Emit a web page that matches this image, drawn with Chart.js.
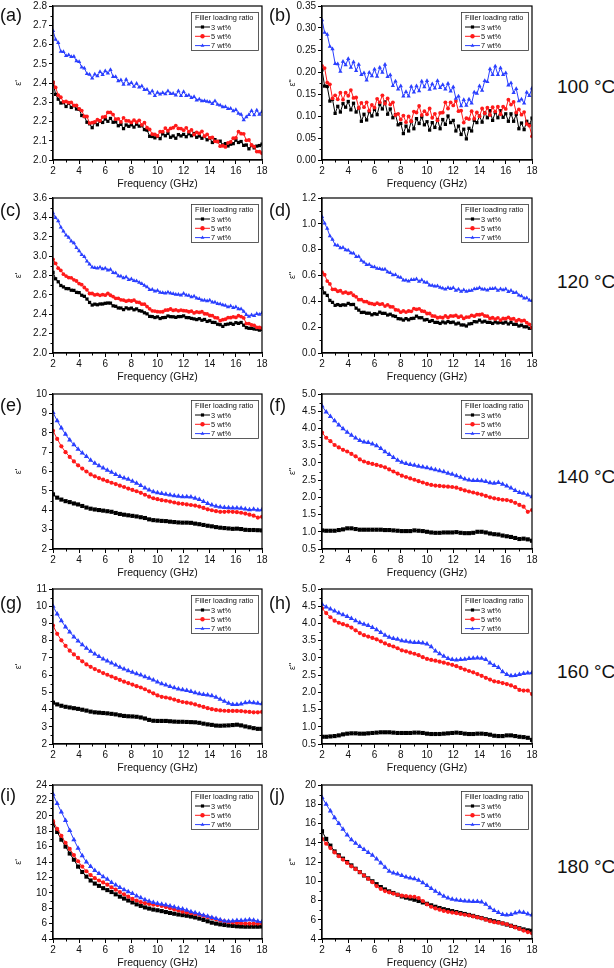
<!DOCTYPE html>
<html><head><meta charset="utf-8">
<script src="https://cdn.jsdelivr.net/npm/chart.js@4.4.1/dist/chart.umd.min.js"></script>
<style>
html,body{margin:0;padding:0;background:#fff;}
body{width:614px;height:968px;position:relative;overflow:hidden;font-family:"Liberation Sans",Arial,sans-serif;}
canvas{position:absolute;}
.lbl{position:absolute;font-size:18px;line-height:20px;color:#111;}
.tmp{position:absolute;font-size:19px;line-height:22px;color:#111;white-space:nowrap;}
</style></head><body>
<script>
// ---------- DATA ----------
const seriesLabels = ['3 wt%', '5 wt%', '7 wt%'];
const legendTitle = 'Filler loading ratio';
const xTitle = 'Frequency (GHz)';
const panelLetters = ['(a)','(b)','(c)','(d)','(e)','(f)','(g)','(h)','(i)','(j)'];
const temperatures = ['100 °C','120 °C','140 °C','160 °C','180 °C'];
const yTitles = ["ε'", 'ε"'];
const xTicks = [2, 18, 2];
// y axis [min, max, step, decimals] per panel
const yAxisA = [2.0, 2.8, 0.1, 1];
const yAxisB = [0, 0.35, 0.05, 2];
const yAxisC = [2.0, 3.6, 0.2, 1];
const yAxisD = [0, 1.2, 0.2, 1];
const yAxisE = [2, 10, 1, 0];
const yAxisF = [0.5, 5.0, 0.5, 1];
const yAxisG = [2, 11, 1, 0];
const yAxisH = [0.5, 5.0, 0.5, 1];
const yAxisI = [4, 24, 2, 0];
const yAxisJ = [4, 20, 2, 0];

const freqDense = [2,2.2,2.4,2.6,2.8,3,3.2,3.4,3.6,3.8,4,4.2,4.4,4.6,4.8,5,5.2,5.4,5.6,5.8,6,6.2,6.4,6.6,6.8,7,7.2,7.4,7.6,7.8,8,8.2,8.4,8.6,8.8,9,9.2,9.4,9.6,9.8,10,10.2,10.4,10.6,10.8,11,11.2,11.4,11.6,11.8,12,12.2,12.4,12.6,12.8,13,13.2,13.4,13.6,13.8,14,14.2,14.4,14.6,14.8,15,15.2,15.4,15.6,15.8,16,16.2,16.4,16.6,16.8,17,17.2,17.4,17.6,17.8,18];
const freqMarked = [2,2.32,2.64,2.96,3.28,3.6,3.92,4.24,4.56,4.88,5.2,5.52,5.84,6.16,6.48,6.8,7.12,7.44,7.76,8.08,8.4,8.72,9.04,9.36,9.68,10,10.32,10.64,10.96,11.28,11.6,11.92,12.24,12.56,12.88,13.2,13.52,13.84,14.16,14.48,14.8,15.12,15.44,15.76,16.08,16.4,16.72,17.04,17.36,17.68,18];

// (a) epsilon' 100 C
const a3 = [2.403,2.341,2.316,2.296,2.298,2.278,2.295,2.273,2.282,2.265,2.263,2.231,2.226,2.196,2.188,2.168,2.195,2.183,2.202,2.195,2.213,2.201,2.216,2.196,2.198,2.178,2.185,2.163,2.182,2.175,2.183,2.171,2.186,2.176,2.178,2.158,2.155,2.123,2.122,2.115,2.123,2.111,2.136,2.126,2.138,2.118,2.125,2.113,2.132,2.125,2.133,2.121,2.136,2.126,2.138,2.118,2.125,2.113,2.122,2.105,2.113,2.091,2.106,2.096,2.098,2.078,2.085,2.073,2.082,2.085,2.103,2.091,2.096,2.076,2.078,2.058,2.075,2.063,2.072,2.075,2.083];
const a5 = [2.405,2.377,2.337,2.326,2.302,2.304,2.298,2.299,2.284,2.283,2.266,2.257,2.227,2.226,2.192,2.194,2.198,2.209,2.204,2.223,2.225,2.247,2.247,2.236,2.212,2.214,2.198,2.219,2.204,2.203,2.195,2.207,2.197,2.206,2.182,2.194,2.168,2.159,2.134,2.133,2.125,2.147,2.147,2.166,2.152,2.164,2.168,2.179,2.164,2.163,2.155,2.167,2.147,2.156,2.132,2.144,2.138,2.149,2.124,2.133,2.115,2.117,2.097,2.096,2.072,2.074,2.068,2.089,2.094,2.113,2.115,2.147,2.137,2.136,2.102,2.104,2.078,2.069,2.044,2.043,2.035];
const a7 = [2.672,2.626,2.609,2.563,2.562,2.541,2.545,2.537,2.538,2.514,2.511,2.482,2.477,2.448,2.444,2.425,2.446,2.436,2.459,2.443,2.462,2.451,2.469,2.433,2.432,2.411,2.415,2.392,2.418,2.394,2.401,2.382,2.397,2.378,2.384,2.365,2.366,2.347,2.358,2.334,2.351,2.341,2.349,2.343,2.358,2.344,2.345,2.336,2.358,2.334,2.354,2.334,2.337,2.323,2.328,2.311,2.316,2.307,2.308,2.304,2.301,2.292,2.307,2.288,2.284,2.275,2.276,2.266,2.268,2.254,2.261,2.242,2.237,2.208,2.224,2.235,2.256,2.234,2.259,2.236,2.251];
// (b) epsilon'' 100 C
const b3 = [.205,.168,.167,.134,.138,.106,.122,.109,.128,.120,.133,.114,.129,.109,.118,.088,.104,.091,.110,.100,.115,.103,.127,.116,.132,.104,.116,.096,.103,.080,.083,.060,.077,.066,.088,.071,.094,.083,.098,.080,.087,.068,.085,.074,.092,.071,.092,.081,.100,.085,.090,.066,.077,.058,.070,.048,.072,.066,.090,.085,.100,.086,.107,.096,.112,.090,.108,.096,.112,.097,.105,.088,.105,.088,.104,.071,.084,.069,.088,.080,.095];
const b5 = [.214,.209,.176,.172,.140,.147,.138,.153,.137,.153,.146,.159,.141,.142,.118,.130,.120,.131,.112,.125,.119,.139,.131,.147,.128,.140,.126,.131,.102,.105,.092,.101,.086,.099,.088,.110,.108,.123,.102,.111,.104,.117,.096,.105,.090,.107,.108,.131,.117,.131,.124,.134,.111,.112,.085,.095,.093,.111,.094,.108,.099,.117,.106,.119,.102,.120,.110,.121,.104,.121,.116,.137,.126,.132,.108,.115,.103,.109,.082,.078,.054];
const b7 = [.318,.290,.285,.258,.252,.219,.218,.201,.224,.216,.230,.210,.223,.203,.217,.194,.198,.181,.199,.191,.206,.190,.210,.199,.217,.189,.193,.169,.179,.161,.168,.145,.155,.145,.167,.154,.168,.157,.179,.166,.180,.160,.173,.163,.180,.164,.171,.161,.174,.156,.166,.140,.145,.123,.137,.124,.138,.129,.154,.151,.168,.158,.180,.178,.207,.194,.213,.194,.209,.194,.198,.170,.175,.153,.162,.134,.138,.129,.154,.146,.163];
// (c) epsilon' 120 C
const c3 = [2.833,2.766,2.735,2.697,2.682,2.665,2.664,2.648,2.646,2.626,2.623,2.596,2.585,2.557,2.522,2.495,2.504,2.498,2.506,2.506,2.513,2.516,2.515,2.487,2.482,2.465,2.464,2.448,2.466,2.456,2.463,2.446,2.455,2.437,2.432,2.415,2.404,2.378,2.376,2.366,2.373,2.356,2.365,2.367,2.382,2.375,2.374,2.368,2.376,2.376,2.383,2.366,2.365,2.357,2.352,2.345,2.354,2.338,2.346,2.326,2.333,2.316,2.315,2.297,2.292,2.275,2.294,2.298,2.306,2.296,2.313,2.306,2.315,2.287,2.262,2.255,2.254,2.248,2.246,2.236,2.243];
const c5 = [2.967,2.925,2.876,2.852,2.814,2.794,2.779,2.776,2.755,2.743,2.717,2.705,2.676,2.652,2.614,2.614,2.599,2.606,2.595,2.603,2.597,2.615,2.596,2.582,2.564,2.564,2.549,2.546,2.535,2.543,2.537,2.545,2.526,2.522,2.504,2.504,2.479,2.456,2.435,2.433,2.427,2.425,2.426,2.442,2.444,2.454,2.439,2.446,2.435,2.443,2.437,2.435,2.426,2.432,2.414,2.424,2.419,2.426,2.405,2.403,2.387,2.385,2.366,2.362,2.334,2.344,2.349,2.366,2.365,2.373,2.367,2.385,2.376,2.362,2.304,2.304,2.289,2.286,2.265,2.263,2.257];
const c7 = [3.444,3.395,3.363,3.298,3.256,3.216,3.191,3.154,3.135,3.087,3.054,3.015,2.993,2.948,2.916,2.886,2.881,2.874,2.885,2.867,2.874,2.855,2.863,2.828,2.826,2.796,2.791,2.774,2.785,2.757,2.764,2.745,2.743,2.728,2.716,2.696,2.681,2.654,2.655,2.637,2.644,2.625,2.623,2.618,2.626,2.616,2.611,2.604,2.605,2.597,2.614,2.595,2.593,2.578,2.586,2.566,2.561,2.544,2.545,2.537,2.544,2.525,2.523,2.508,2.506,2.496,2.491,2.474,2.485,2.467,2.474,2.455,2.453,2.428,2.396,2.376,2.391,2.384,2.405,2.397,2.414];
// (d) epsilon'' 120 C
const d3 = [.504,.465,.446,.407,.392,.369,.375,.368,.373,.371,.384,.375,.376,.347,.332,.314,.315,.308,.308,.296,.304,.300,.316,.307,.307,.294,.300,.288,.283,.266,.264,.255,.266,.257,.267,.269,.285,.273,.273,.256,.259,.245,.251,.237,.237,.229,.240,.233,.243,.236,.239,.225,.231,.217,.217,.209,.225,.228,.243,.241,.254,.240,.246,.237,.237,.229,.240,.233,.238,.231,.239,.225,.236,.222,.222,.209,.215,.203,.203,.191,.194];
const d5 = [.626,.606,.557,.535,.493,.493,.478,.482,.465,.472,.461,.466,.447,.435,.413,.413,.398,.397,.385,.382,.376,.386,.377,.380,.363,.373,.358,.357,.335,.332,.316,.326,.317,.325,.323,.343,.338,.342,.325,.322,.306,.306,.287,.285,.273,.278,.273,.287,.275,.287,.286,.291,.277,.285,.268,.278,.278,.292,.285,.297,.296,.301,.287,.285,.268,.273,.263,.272,.255,.267,.266,.276,.262,.265,.248,.258,.248,.252,.235,.222,.196];
const d7 = [1.055,1.004,.963,.906,.878,.837,.832,.813,.816,.798,.795,.774,.773,.746,.748,.717,.702,.683,.686,.668,.665,.654,.653,.646,.648,.627,.622,.603,.606,.588,.585,.564,.563,.556,.568,.567,.572,.553,.566,.548,.545,.524,.523,.516,.518,.507,.502,.493,.506,.498,.505,.484,.493,.476,.488,.477,.482,.483,.496,.498,.505,.494,.493,.486,.498,.497,.502,.483,.496,.488,.495,.474,.483,.466,.468,.447,.442,.423,.426,.408,.405];
// (e) epsilon' 140 C
const e3 = [4.82,4.65,4.55,4.47,4.42,4.35,4.3,4.22,4.14,4.08,4.04,4.01,3.98,3.95,3.92,3.86,3.81,3.77,3.74,3.71,3.68,3.64,3.6,3.53,3.49,3.47,3.45,3.44,3.41,3.39,3.37,3.36,3.36,3.35,3.31,3.28,3.24,3.2,3.17,3.13,3.1,3.08,3.06,3.04,3.05,3.03,2.99,2.98,2.98,2.97,2.96];
const e5 = [8.1,7.68,7.3,7.0,6.75,6.52,6.32,6.15,6.0,5.85,5.75,5.66,5.58,5.5,5.42,5.35,5.27,5.2,5.12,5.05,4.98,4.9,4.8,4.7,4.62,4.57,4.52,4.49,4.45,4.4,4.35,4.33,4.3,4.27,4.24,4.19,4.12,4.05,4.0,3.95,3.92,3.92,3.93,3.92,3.9,3.87,3.83,3.77,3.72,3.62,3.66];
const e7 = [9.05,8.62,8.25,7.92,7.62,7.38,7.15,6.95,6.78,6.58,6.42,6.3,6.18,6.06,5.96,5.85,5.74,5.66,5.6,5.5,5.4,5.28,5.15,5.05,4.96,4.9,4.86,4.82,4.79,4.75,4.72,4.7,4.7,4.69,4.62,4.55,4.45,4.35,4.27,4.21,4.17,4.14,4.13,4.12,4.12,4.1,4.06,4.02,4.05,4.01,4.03];
// (f) epsilon'' 140 C
const f3 = [1.04,1.03,1.03,1.03,1.05,1.07,1.1,1.1,1.08,1.06,1.06,1.06,1.06,1.06,1.06,1.05,1.05,1.04,1.03,1.02,1.02,1.02,1.04,1.03,1.02,1.0,0.98,0.97,0.97,0.98,0.98,0.98,0.99,0.97,0.96,0.96,0.97,1.0,1.0,0.98,0.95,0.93,0.92,0.89,0.87,0.85,0.82,0.79,0.8,0.78,0.74];
const f5 = [3.88,3.73,3.63,3.52,3.45,3.38,3.33,3.26,3.19,3.1,3.04,3.0,2.97,2.94,2.91,2.87,2.81,2.75,2.69,2.63,2.59,2.55,2.51,2.47,2.43,2.39,2.36,2.34,2.33,2.32,2.31,2.3,2.28,2.24,2.2,2.17,2.14,2.11,2.08,2.04,2.0,1.97,1.95,1.93,1.92,1.89,1.84,1.78,1.73,1.58,1.63];
const f7 = [4.65,4.48,4.35,4.22,4.1,3.99,3.89,3.8,3.72,3.65,3.61,3.59,3.55,3.5,3.42,3.32,3.24,3.16,3.08,3.02,2.98,2.95,2.93,2.9,2.88,2.86,2.83,2.8,2.77,2.74,2.7,2.67,2.63,2.58,2.53,2.5,2.49,2.49,2.48,2.46,2.42,2.41,2.43,2.38,2.33,2.27,2.2,2.14,2.12,2.07,2.02];
// (g) epsilon' 160 C
const g3 = [4.4,4.3,4.22,4.16,4.12,4.08,4.04,3.99,3.94,3.88,3.84,3.82,3.8,3.78,3.75,3.72,3.67,3.63,3.61,3.6,3.58,3.54,3.48,3.4,3.35,3.34,3.34,3.34,3.32,3.3,3.29,3.29,3.28,3.27,3.26,3.23,3.18,3.14,3.11,3.07,3.06,3.07,3.08,3.1,3.12,3.08,3.02,2.97,2.92,2.88,2.88];
const g5 = [8.88,8.4,8.02,7.7,7.42,7.2,7.0,6.8,6.62,6.48,6.35,6.24,6.12,6.02,5.92,5.82,5.72,5.62,5.54,5.45,5.36,5.28,5.18,5.06,4.94,4.82,4.74,4.7,4.65,4.58,4.5,4.44,4.4,4.36,4.3,4.22,4.15,4.08,4.02,3.98,3.95,3.93,3.92,3.92,3.92,3.91,3.88,3.86,3.84,3.84,3.86];
const g7 = [10.0,9.55,9.15,8.8,8.5,8.22,7.98,7.76,7.56,7.38,7.22,7.08,6.94,6.82,6.7,6.58,6.46,6.36,6.26,6.16,6.08,6.0,5.9,5.82,5.72,5.6,5.5,5.42,5.34,5.26,5.2,5.15,5.1,5.05,4.98,4.92,4.88,4.85,4.8,4.72,4.6,4.48,4.37,4.3,4.3,4.32,4.4,4.42,4.4,4.36,4.33];
// (h) epsilon'' 160 C
const h3 = [0.71,0.71,0.72,0.73,0.75,0.78,0.8,0.81,0.81,0.8,0.8,0.81,0.82,0.83,0.84,0.84,0.84,0.83,0.82,0.82,0.82,0.82,0.83,0.83,0.82,0.8,0.79,0.79,0.79,0.8,0.81,0.82,0.83,0.82,0.8,0.79,0.79,0.8,0.8,0.79,0.77,0.74,0.73,0.73,0.75,0.75,0.73,0.71,0.7,0.68,0.62];
const h5 = [4.44,4.3,4.18,4.08,4.02,3.98,3.94,3.88,3.8,3.72,3.66,3.62,3.58,3.54,3.48,3.42,3.37,3.33,3.28,3.22,3.19,3.15,3.12,3.08,3.02,2.97,2.94,2.92,2.89,2.86,2.83,2.8,2.76,2.71,2.66,2.62,2.58,2.53,2.48,2.42,2.37,2.32,2.3,2.27,2.24,2.2,2.15,2.07,2.05,2.05,1.95];
const h7 = [4.56,4.48,4.42,4.36,4.3,4.25,4.2,4.14,4.08,4.02,3.98,3.94,3.88,3.82,3.74,3.66,3.6,3.56,3.54,3.5,3.48,3.46,3.45,3.45,3.43,3.4,3.32,3.2,3.12,3.05,2.98,2.95,2.94,2.95,2.96,2.98,2.99,3.0,2.99,2.95,2.85,2.78,2.72,2.6,2.52,2.48,2.49,2.52,2.55,2.56,2.57];
// (i) epsilon' 180 C
const i3 = [19.0,17.9,16.9,16.0,15.1,14.3,13.4,12.7,12.1,11.6,11.2,10.9,10.6,10.35,10.1,9.8,9.5,9.25,9.0,8.75,8.5,8.3,8.1,7.95,7.82,7.73,7.62,7.5,7.38,7.28,7.18,7.1,7.02,6.92,6.8,6.65,6.48,6.3,6.12,6.0,5.9,5.82,5.75,5.7,5.65,5.62,5.6,5.6,5.6,5.6,5.62];
const i5 = [19.3,18.3,17.4,16.5,15.7,14.9,14.1,13.4,12.8,12.3,11.9,11.6,11.35,11.05,10.7,10.4,10.1,9.8,9.5,9.2,9.0,8.8,8.65,8.55,8.45,8.4,8.3,8.15,8.0,7.85,7.7,7.55,7.45,7.35,7.25,7.15,7.0,6.85,6.7,6.55,6.4,6.3,6.2,6.15,6.1,6.05,6.0,6.0,6.0,6.0,6.0];
const i7 = [22.8,21.6,20.5,19.4,18.1,16.9,15.8,14.8,14.0,13.4,12.9,12.5,12.1,11.75,11.35,11.0,10.7,10.4,10.15,9.9,9.6,9.35,9.1,8.9,8.75,8.6,8.5,8.42,8.3,8.15,8.0,7.9,7.72,7.55,7.4,7.25,7.1,6.95,6.8,6.65,6.5,6.35,6.3,6.35,6.4,6.4,6.45,6.5,6.45,6.3,6.25];
// (j) epsilon'' 180 C
const j3 = [15.2,14.4,13.7,13.1,12.7,12.35,12.0,11.65,11.3,10.95,10.6,10.3,10.0,9.7,9.4,9.15,8.95,8.78,8.6,8.42,8.3,8.2,8.08,7.95,7.8,7.66,7.5,7.35,7.22,7.1,7.0,6.9,6.8,6.7,6.6,6.5,6.4,6.28,6.18,6.05,5.95,5.85,5.75,5.62,5.5,5.38,5.25,5.12,5.0,4.9,4.85];
const j5 = [14.4,13.9,13.45,13.0,12.6,12.25,11.9,11.55,11.25,10.95,10.6,10.25,9.9,9.5,9.2,8.98,8.85,8.72,8.6,8.5,8.45,8.4,8.38,8.25,7.95,7.6,7.35,7.18,7.05,6.92,6.82,6.75,6.68,6.6,6.52,6.45,6.35,6.25,6.15,6.0,5.85,5.75,5.7,5.62,5.52,5.35,5.2,5.05,4.88,4.72,4.6];
const j7 = [18.7,18.0,17.3,16.6,16.0,15.4,14.8,14.3,13.95,13.6,13.3,13.0,12.7,12.3,11.9,11.45,11.05,10.85,10.75,10.6,10.45,10.35,10.25,10.1,9.85,9.55,9.25,8.95,8.7,8.45,8.25,8.12,8.05,8.0,7.95,7.92,7.9,7.9,7.85,7.6,7.25,6.95,6.75,6.55,6.5,6.55,6.7,6.8,6.75,6.6,6.5];

// ---------- LAYOUT / STYLE ----------
const FONT = '"Liberation Sans", Arial, sans-serif';
const colors = ['#000000', '#ff1a1a', '#2a3fff'];
const styles = ['rect', 'circle', 'triangle'];
const rowTop = [5, 197, 393, 588, 784];
const rowH = [155, 156, 156, 156, 155];
const PADT = 7, XH = 32;

const panels = [
  {f: freqDense, s: [a3, a5, a7], y: yAxisA, dense: true},
  {f: freqDense, s: [b3, b5, b7], y: yAxisB, dense: true},
  {f: freqDense, s: [c3, c5, c7], y: yAxisC, dense: true},
  {f: freqDense, s: [d3, d5, d7], y: yAxisD, dense: true},
  {f: freqMarked, s: [e3, e5, e7], y: yAxisE},
  {f: freqMarked, s: [f3, f5, f7], y: yAxisF},
  {f: freqMarked, s: [g3, g5, g7], y: yAxisG},
  {f: freqMarked, s: [h3, h5, h7], y: yAxisH},
  {f: freqMarked, s: [i3, i5, i7], y: yAxisI},
  {f: freqMarked, s: [j3, j5, j7], y: yAxisJ}
];

function drawMarker(ctx, style, x, y, r) {
  ctx.beginPath();
  if (style === 'rect') { const s = r * 0.72; ctx.rect(x - s, y - s, 2 * s, 2 * s); }
  else if (style === 'triangle') { ctx.moveTo(x, y - r); ctx.lineTo(x + r * 0.87, y + r * 0.5); ctx.lineTo(x - r * 0.87, y + r * 0.5); ctx.closePath(); }
  else ctx.arc(x, y, r, 0, Math.PI * 2);
  ctx.fill();
}

const framePlugin = {
  id: 'frame',
  afterDraw(chart, args, opts) {
    const {ctx, chartArea: a, scales} = chart;
    const x = scales.x, y = scales.y;
    ctx.save();
    ctx.strokeStyle = '#000'; ctx.lineWidth = 1.2;
    ctx.strokeRect(a.left, a.top, a.right - a.left, a.bottom - a.top);
    // minor ticks
    ctx.lineWidth = 1;
    ctx.beginPath();
    for (let v = x.min + xTicks[2] / 2; v < x.max; v += xTicks[2]) {
      const px = Math.round(x.getPixelForValue(v)) + 0.5;
      ctx.moveTo(px, a.bottom); ctx.lineTo(px, a.bottom + 2.5);
    }
    const st = opts.yStep;
    for (let k = 0; ; k++) {
      const v = y.min + st * (k + 0.5);
      if (v >= y.max - 1e-9) break;
      const py = Math.round(y.getPixelForValue(v)) + 0.5;
      ctx.moveTo(a.left, py); ctx.lineTo(a.left - 2.5, py);
    }
    ctx.stroke();
    // legend box
    const bw = 67, bh = 38;
    const bx = a.right - 4 - bw, by = a.top + 6;
    ctx.fillStyle = '#fff';
    ctx.fillRect(bx, by, bw, bh);
    ctx.strokeStyle = '#333'; ctx.lineWidth = 0.8;
    ctx.strokeRect(bx + 0.5, by + 0.5, bw, bh);
    ctx.fillStyle = '#111';
    ctx.font = '7.4px ' + FONT;
    ctx.textBaseline = 'middle'; ctx.textAlign = 'left';
    ctx.fillText(legendTitle, bx + 4, by + 6);
    const ds = chart.data.datasets;
    ds.forEach((d, i) => {
      const ly = by + 15 + i * 9.3;
      ctx.strokeStyle = d.borderColor; ctx.lineWidth = 1;
      ctx.beginPath(); ctx.moveTo(bx + 4, ly); ctx.lineTo(bx + 19, ly); ctx.stroke();
      ctx.fillStyle = d.borderColor;
      drawMarker(ctx, d.pointStyle, bx + 11.5, ly, 2.2);
      ctx.fillStyle = '#111';
      ctx.fillText(d.label, bx + 20, ly + 0.5);
    });
    ctx.restore();
  }
};

panels.forEach((p, idx) => {
  const col = idx % 2, row = Math.floor(idx / 2);
  const cv = document.createElement('canvas');
  const W = 270, H = PADT + rowH[row] + XH;
  cv.width = W; cv.height = H;
  cv.style.left = (col * 270) + 'px';
  cv.style.top = (rowTop[row] - PADT) + 'px';
  cv.style.width = W + 'px'; cv.style.height = H + 'px';
  document.body.appendChild(cv);
  const [ymin, ymax, ystep, dec] = p.y;
  const radii = p.dense ? [2.3, 1.9, 2.5] : [2.9, 2.1, 3.0];
  const datasets = p.s.map((vals, k) => ({
    label: seriesLabels[k],
    data: vals.map((v, i) => ({x: p.f[i], y: v})),
    borderColor: colors[k], backgroundColor: colors[k],
    borderWidth: 1, pointStyle: styles[k], pointRadius: radii[k],
    pointBorderWidth: 0, pointHoverRadius: radii[k],
    order: 2 - k, tension: 0, fill: false
  }));
  new Chart(cv, {
    type: 'line',
    data: {datasets},
    plugins: [framePlugin],
    options: {
      responsive: false, animation: false, devicePixelRatio: 1,
      layout: {padding: {top: PADT, right: 8, bottom: 0, left: 0}},
      plugins: {legend: {display: false}, tooltip: {enabled: false}, frame: {yStep: ystep}},
      scales: {
        x: {
          type: 'linear', min: xTicks[0], max: xTicks[1],
          afterFit: s => { s.height = XH; },
          ticks: {stepSize: xTicks[2], color: '#111', padding: 1, maxRotation: 0, autoSkip: false,
                  font: {family: FONT, size: 10}},
          grid: {drawOnChartArea: false, drawTicks: true, tickLength: 4, color: '#000', lineWidth: 1},
          border: {display: true, color: '#000', width: 1.2},
          title: {display: true, text: xTitle, color: '#111', font: {family: FONT, size: 10.5},
                  padding: {top: 0, bottom: 2}}
        },
        y: {
          type: 'linear', min: ymin, max: ymax,
          afterFit: s => { s.width = col ? 52 : 53; },
          ticks: {stepSize: ystep, color: '#111', padding: 2, autoSkip: false,
                  font: {family: FONT, size: 10},
                  callback: v => Number(v).toFixed(dec)},
          grid: {drawOnChartArea: false, drawTicks: true, tickLength: 4, color: '#000', lineWidth: 1},
          border: {display: true, color: '#000', width: 1.2},
          title: {display: true, text: yTitles[col], color: '#111', font: {family: FONT, size: 9},
                  padding: {top: col ? 17 : 13, bottom: 0}}
        }
      }
    }
  });
  const l = document.createElement('div');
  l.className = 'lbl';
  l.textContent = panelLetters[idx];
  l.style.left = (col ? 269 : 0) + 'px';
  l.style.top = ([5, 200, 395, 593, 785][row]) + 'px';
  document.body.appendChild(l);
});

temperatures.forEach((t, r) => {
  const d = document.createElement('div');
  d.className = 'tmp';
  d.textContent = t;
  d.style.left = '557px';
  d.style.top = ([76, 271, 466, 661, 856][r]) + 'px';
  document.body.appendChild(d);
});
</script>
</body></html>
